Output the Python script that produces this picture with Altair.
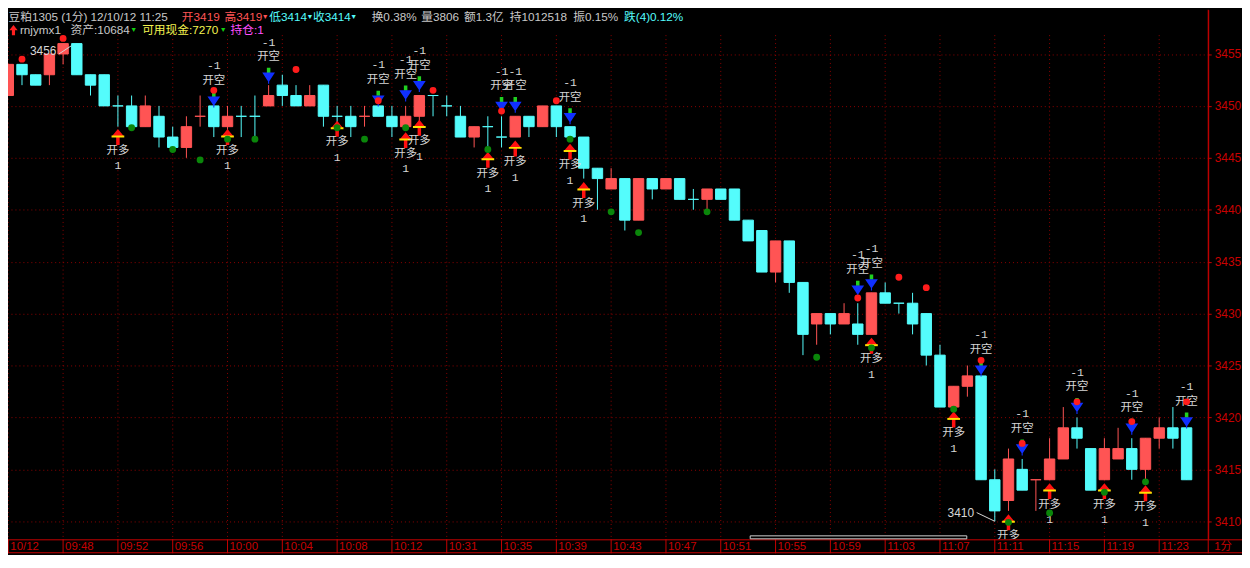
import altair as alt
import pandas as pd
import numpy as np

# ---------------- data (1-minute bars, 豆粕1305) ----------------
opens  = [3451,3454,3453,3453,3455,3456,3453,3453,3450,3450,3448,3449,3447,3446,3449,3450,3448,3449,3449,3450,
          3452,3451,3450,3452,3449,3449,3449,3450,3449,3448,3449,3451,3450,3449,3447,3448,3447,3447,3449,3448,
          3450,3448,3447,3444,3442,3443,3439,3443,3442,3443,3441,3441,3442,3442,3439,3438,3434,3437,3433,3429,
          3430,3429,3429,3428,3432,3431,3431,3430,3426,3421,3423,3424,3414,3412,3415,3414,3414,3416,3419,3417,
          3414,3416,3417,3415,3418,3419,3419]
highs  = [3454,3454,3453,3455,3456,3456,3453,3453,3451,3451,3451,3450,3448,3449,3451,3450,3450,3450,3451,3452,
          3453,3452,3452,3452,3450,3450,3450,3450,3450,3450,3451,3451,3451,3450,3448,3449,3449,3449,3449,3450,
          3450,3448,3447,3444,3444,3443,3443,3443,3443,3443,3442,3442,3442,3442,3439,3438,3437,3437,3433,3430,
          3430,3431,3431,3432,3433,3431,3432,3430,3427,3423,3425,3424,3415,3417,3416,3414,3418,3421,3420,3417,
          3418,3419,3418,3418,3420,3421,3419]
lows   = [3451,3452,3452,3452,3454,3453,3451,3450,3448,3448,3448,3446,3446,3445,3448,3447,3447,3447,3447,3450,
          3450,3450,3450,3448,3448,3447,3448,3449,3447,3448,3448,3449,3449,3447,3446,3446,3446,3447,3447,3448,
          3447,3447,3443,3440,3442,3438,3439,3441,3442,3441,3440,3440,3441,3439,3437,3434,3433,3432,3426,3427,
          3428,3429,3427,3428,3431,3430,3428,3425,3421,3421,3422,3414,3410,3411,3413,3411,3414,3416,3417,3413,
          3414,3416,3414,3414,3417,3417,3414]
closes = [3454,3453,3452,3455,3456,3453,3452,3450,3450,3448,3450,3447,3446,3448,3449,3448,3449,3449,3449,3451,
          3451,3450,3451,3449,3449,3448,3449,3449,3448,3449,3451,3451,3450,3447,3448,3448,3447,3449,3448,3450,
          3448,3447,3444,3443,3443,3439,3443,3442,3443,3441,3441,3442,3441,3439,3437,3434,3437,3433,3428,3430,
          3429,3430,3428,3432,3431,3431,3429,3426,3421,3423,3424,3414,3411,3416,3413,3414,3416,3419,3418,3413,
          3417,3417,3415,3418,3419,3418,3414]

tick_labels = ["10/12","09:48","09:52","09:56","10:00","10:04","10:08","10:12","10:31","10:35","10:39",
               "10:43","10:47","10:51","10:55","10:59","11:03","11:07","11:11","11:15","11:19","11:23"]
tick_step = 4
price_ticks = [3410,3415,3420,3425,3430,3435,3440,3445,3450,3455]

buy_bars   = [8,16,24,29,30,35,37,41,42,63,69,73,76,80,83]
buy_level  = [3447.0,3447.0,3447.8,3446.7,3447.9,3444.8,3445.9,3445.6,3441.9,3426.9,3419.8,3409.9,3412.9,3412.9,3412.7]
sell_bars  = [15,19,27,29,30,36,37,41,62,63,71,74,78,82,86]
sell_level = [3450.6,3452.9,3450.7,3451.2,3452.1,3450.1,3450.1,3449.0,3432.4,3433.0,3424.7,3417.1,3421.1,3419.1,3419.7]
hi_dot_bars  = [1,4,15,21,27,31,36,40,62,65,67,71,74,78,82,86]
hi_dot_level = [3454.5,3456.5,3451.5,3453.5,3450.5,3451.5,3449.5,3450.5,3431.5,3433.5,3432.5,3425.5,3417.5,3421.5,3419.6,3421.5]
lo_dot_bars  = [9,12,14,16,18,24,26,29,35,41,44,46,51,59,63,69,73,76,80,83]
lo_dot_level = [3447.9,3445.8,3444.8,3446.8,3446.8,3447.9,3446.8,3447.9,3445.8,3446.8,3439.8,3437.8,3439.8,3425.8,
                3426.7,3420.8,3409.9,3410.8,3412.8,3413.8]

header1_text = ["豆粕1305 (1分) 12/10/12 11:25", "开3419", "高3419", "▼", "低3414", "▼", "收3414", "▼",
                "换0.38%", "量3806", "额1.3亿", "持1012518", "振0.15%", "跌(4)0.12%"]
header2_text = ["rnjymx1", "资产:10684", "▼", "可用现金:7270", "▼", "持仓:1"]

# ---------------- layout / style ----------------
PLOT_W, PLOT_H = 1208, 533
PAD_R, PAD_B = 34, 14
SY = PLOT_H / 542.5            # vertical squeeze of the reference
def px(X): return X - 8
def py(Y): return (Y - 8) * SY

RED = "#ff5454"
CYAN = "#54fcfc"
AXRED = "#c80000"
GRID = "#8c0000"
GRAY = "#c8c8c8"
TXT = "#d6d6d6"
YELLOW = "#f4f450"
MAGENTA = "#ff50ff"
GREEN = "#10d010"
FONT = "Liberation Sans, DejaVu Sans, Noto Sans CJK SC"

xs = alt.Scale(domain=[-0.0218, 87.578], nice=False, zero=False)
ys = alt.Scale(domain=[3408.262, 3459.258], nice=False, zero=False)
yaxis = alt.Axis(orient="right", values=price_ticks, format="d", title=None, labelColor=AXRED, labelFont=FONT,
                 labelFontSize=12, tickColor=AXRED, tickSize=3, labelPadding=3, domainColor=AXRED,
                 grid=True, gridColor=GRID, gridDash=[1, 3], gridWidth=1, labelOverlap=False, labelFlush=False)

def X(f): return alt.X(f, type="quantitative", scale=xs, axis=None)
def Y(f): return alt.Y(f, type="quantitative", scale=ys, axis=yaxis)

n = len(opens)
df = pd.DataFrame({"i": np.arange(n), "o": opens, "h": highs, "l": lows, "c": closes})
prev = df["c"].shift(1).fillna(df["o"])
up = (df["c"] > df["o"]) | ((df["c"] == df["o"]) & (df["c"] > prev))
df["col"] = np.where(up, RED, CYAN)
df["x0"] = df["i"] - 0.38
df["x1"] = df["i"] + 0.38

ticks = pd.DataFrame({"i": np.arange(len(tick_labels)) * tick_step, "lab": tick_labels})
buy = pd.DataFrame({"i": buy_bars, "v": buy_level})
sell = pd.DataFrame({"i": sell_bars, "v": sell_level})
hid = pd.DataFrame({"i": hi_dot_bars, "v": hi_dot_level})
lod = pd.DataFrame({"i": lo_dot_bars, "v": lo_dot_level})

layers = []

# vertical dotted grid
layers.append(alt.Chart(ticks).mark_rule(color=GRID, strokeDash=[1, 3], strokeWidth=1).encode(
    x=X("i"), y=alt.value(py(34)), y2=alt.value(PLOT_H)))

# wicks & bodies
layers.append(alt.Chart(df).mark_rule(strokeWidth=1, clip=True).encode(
    x=X("i"), y=Y("l"), y2="h:Q", color=alt.Color("col:N", scale=None)))
layers.append(alt.Chart(df).mark_rect(strokeWidth=1, clip=True).encode(
    x=X("x0"), x2="x1:Q", y=Y("o"), y2="c:Q",
    fill=alt.Fill("col:N", scale=None), stroke=alt.Stroke("col:N", scale=None)))

# arrows
BUY_PATH = "M0,-1L0.75,-0.1L0.22,-0.1L0.22,1L-0.22,1L-0.22,-0.1L-0.75,-0.1Z"
BUY_BAND = "M-0.8,-0.2L0.8,-0.2L0.8,0.05L-0.8,0.05Z"
SELL_SHAFT = "M-0.22,-1L0.22,-1L0.22,-0.35L-0.22,-0.35Z"
SELL_HEAD = "M-0.8,-0.4L0.8,-0.4L0,0.8ZM-0.07,0.6L0.07,0.6L0.07,1L-0.07,1Z"
UP_ICON = "M0,-1L0.8,0L0.3,0L0.3,1L-0.3,1L-0.3,0L-0.8,0Z"

def arrow(data, shape, color):
    return alt.Chart(data).mark_point(shape=shape, size=256, filled=True, opacity=1, strokeWidth=0,
                                      color=color, clip=True).encode(x=X("i"), y=Y("v"))

layers += [arrow(buy, BUY_PATH, "#ff1010"), arrow(buy, BUY_BAND, "#ffe000"),
           arrow(sell, SELL_SHAFT, "#20d020"), arrow(sell, SELL_HEAD, "#1030ff")]

def label(data, text, dy, font="Noto Sans CJK SC", size=11.5):
    return alt.Chart(data).mark_text(text=text, dy=dy, font=font, fontSize=size, color=TXT,
                                     baseline="middle", align="center", clip=True).encode(x=X("i"), y=Y("v"))

layers += [label(buy, "开多", 14 * SY), label(buy, "1", 30 * SY, "Liberation Mono", 11.5),
           label(sell, "开空", -19 * SY), label(sell, "-1", -34 * SY, "Liberation Mono", 11.5)]

# dots
layers.append(alt.Chart(hid).mark_circle(size=48, opacity=1, color="#ff1c1c", clip=True).encode(x=X("i"), y=Y("v")))
layers.append(alt.Chart(lod).mark_circle(size=48, opacity=1, color="#0a860a", clip=True).encode(x=X("i"), y=Y("v")))

# max / min annotations
BAR, PU = 13.79, 10.638
imax = int(np.argmax(highs)); hmax = highs[imax]
imin = int(np.argmin(lows)); lmin = lows[imin]
ann = pd.DataFrame({"i": [imax, imin], "v": [hmax, lmin], "t": [str(hmax), str(lmin)]})
layers.append(alt.Chart(ann.iloc[[0]]).mark_text(dx=-20, dy=7.3 * SY, font=FONT, fontSize=12, color=TXT).encode(
    x=X("i"), y=Y("v"), text="t:N"))
layers.append(alt.Chart(ann.iloc[[1]]).mark_text(dx=-34.2, dy=-8.9 * SY, font=FONT, fontSize=12, color=TXT).encode(
    x=X("i"), y=Y("v"), text="t:N"))
lines = pd.DataFrame({
    "a": [imax - 4.2 / BAR, imin - 18.2 / BAR], "b": [imax + 8.2 / BAR, imin],
    "p": [hmax - 10.6 / PU, lmin + 8.9 / PU], "q": [hmax - 2.3 / PU, lmin]})
layers.append(alt.Chart(lines).mark_rule(color=TXT, strokeWidth=1).encode(
    x=X("a"), x2="b:Q", y=Y("p"), y2="q:Q"))

TOTAL_W, TOTAL_H = PLOT_W + PAD_R, PLOT_H + PAD_B

# bottom time axis
layers.append(alt.Chart(ticks).mark_rule(color=AXRED, strokeWidth=1).encode(
    x=X("i"), y=alt.value(PLOT_H), y2=alt.value(TOTAL_H)))
layers.append(alt.Chart(ticks).mark_text(align="left", baseline="middle", dx=2, font=FONT, fontSize=11.5,
                                         color=AXRED).encode(x=X("i"), y=alt.value(PLOT_H + 7.5), text="lab:N"))
layers.append(alt.Chart(pd.DataFrame({"t": ["1分"]})).mark_text(align="left", baseline="middle", font=FONT,
                                                              fontSize=11.5, color=AXRED).encode(
    x=alt.value(px(1222)), y=alt.value(PLOT_H + 7.5), text="t:N"))

# frame lines
def hline(yv, color, w=1):
    return alt.Chart(pd.DataFrame({"k": [0]})).mark_rule(color=color, strokeWidth=w).encode(
        x=alt.value(0), x2=alt.value(TOTAL_W), y=alt.value(yv))
def vline(xv, y0, y1, color, w=1):
    return alt.Chart(pd.DataFrame({"k": [0]})).mark_rule(color=color, strokeWidth=w).encode(
        x=alt.value(xv), y=alt.value(y0), y2=alt.value(y1))
layers += [hline(PLOT_H + 0.5, AXRED), hline(TOTAL_H - 0.5, AXRED), vline(PLOT_W, 0, TOTAL_H, AXRED)]

# scroll indicator
layers.append(alt.Chart(pd.DataFrame({"k": [0]})).mark_rect(fill="black", stroke="#d0d0d0", strokeWidth=1).encode(
    x=alt.value(px(755)), x2=alt.value(px(973)), y=alt.value(PLOT_H - 3.5), y2=alt.value(PLOT_H - 0.5)))

# header
h1 = pd.DataFrame({"t": header1_text,
                   "x": [max(px(v), 0.5) for v in [2.7, 183, 226, 263.5, 271, 308.5, 315, 352.5, 374, 424, 467, 513, 577, 628]],
                   "c": [GRAY, RED, RED, RED, CYAN, CYAN, CYAN, CYAN, GRAY, GRAY, GRAY, GRAY, GRAY, CYAN],
                   "s": [11.8, 11.8, 11.8, 7, 11.8, 7, 11.8, 7, 11.8, 11.8, 11.8, 11.8, 11.8, 11.8]})
h2 = pd.DataFrame({"t": header2_text,
                   "x": [px(v) for v in [20, 71, 131, 143, 221, 232]],
                   "c": [GRAY, GRAY, GREEN, YELLOW, GREEN, MAGENTA],
                   "s": [11.8, 11.8, 7, 11.8, 7, 11.8]})
for hdf, yy in [(h1, 7), (h2, 20.5)]:
    layers.append(alt.Chart(hdf).mark_text(align="left", baseline="middle", font=FONT, fontWeight="normal").encode(
        x=alt.X("x:Q", scale=None, axis=None), y=alt.value(yy), text="t:N",
        color=alt.Color("c:N", scale=None), size=alt.Size("s:Q", scale=None, legend=None)))
# red up-arrow icon in the account line
layers.append(alt.Chart(pd.DataFrame({"k": [0]})).mark_point(shape=UP_ICON, size=110, filled=True, opacity=1,
                                                             strokeWidth=0, color="#ff2020").encode(
    x=alt.value(px(13.5)), y=alt.value(20.5)))

chart = alt.layer(*layers).properties(
    width=PLOT_W, height=PLOT_H,
    padding={"left": 0, "top": 0, "right": PAD_R, "bottom": PAD_B},
    autosize=alt.AutoSizeParams(type="none"),
    background="black",
).configure_view(strokeWidth=0, fill="black")

chart.save("out.html", embed_options={"renderer": "svg", "actions": False})
